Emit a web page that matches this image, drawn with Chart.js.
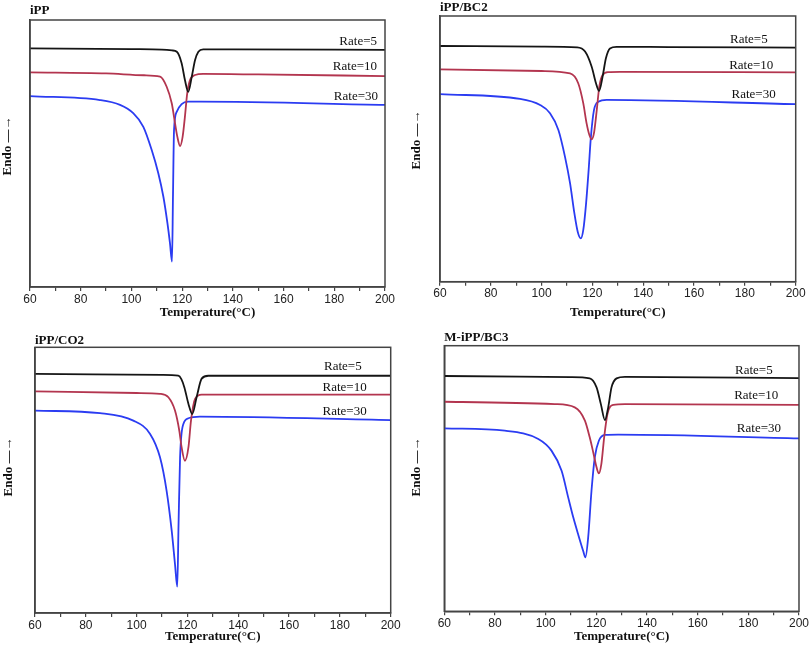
<!DOCTYPE html>
<html>
<head>
<meta charset="utf-8">
<script src="https://cdn.jsdelivr.net/npm/chart.js@4.4.1/dist/chart.umd.min.js"></script>
<style>
  html, body { margin: 0; padding: 0; background: #fff; }
  .panel { position: absolute; width: 405px; height: 324px; }
</style>
</head>
<body>
<div class="panel" style="left:0;top:0"><canvas id="c1"></canvas></div>
<div class="panel" style="left:405px;top:0"><canvas id="c2"></canvas></div>
<div class="panel" style="left:0;top:324px"><canvas id="c3"></canvas></div>
<div class="panel" style="left:405px;top:324px"><canvas id="c4"></canvas></div>
<script>
// Temperature axis
const tempMin = 60, tempMax = 200, tempStep = 10, tempLabelEvery = 20;
const rateLabels = ['Rate=5', 'Rate=10', 'Rate=30'];
const panelTitles = ['iPP', 'iPP/BC2', 'iPP/CO2', 'M-iPP/BC3'];

// [temperature °C, heat flow (a.u., 0-100 of plot height)]
const ippRate5 = [[60,89.4],[100,89.1],[112,88.9],[116,88.6],[117.9,88.1],[119.8,83.8],[121.1,77.5],[122.4,73.1],[123.8,78.8],[125.1,85.0],[126.4,88.1],[128.3,89.0],[140,89.0],[200,88.8]];
const ippRate10 = [[60,80.4],[90,80.0],[105,79.3],[111.3,78.8],[113.9,75.0],[115.9,68.8],[117.2,61.3],[118.1,56.3],[119.2,52.8],[120.2,56.3],[121.1,63.8],[122.0,72.5],[123.1,77.5],[125.1,79.4],[128.3,79.8],[150,79.6],[200,79.0]];
const ippRate30 = [[60,71.5],[87.6,70.0],[95.5,68.2],[100.7,65.1],[104.7,60.0],[108.0,51.3],[110.6,42.6],[112.6,33.8],[114.2,23.9],[115.2,16.4],[116.0,9.5],[116.4,35.0],[116.8,58.8],[117.9,65.7],[119.8,68.5],[122.4,69.4],[127,69.4],[200,68.2]];

const bc2Rate5 = [[60,88.7],[100,88.5],[114,88.2],[117.1,86.6],[119.7,80.9],[121.4,74.7],[122.6,71.8],[124.0,77.2],[125.3,84.1],[126.9,87.8],[129.5,88.4],[150,88.3],[200,88.1]];
const bc2Rate10 = [[60,79.9],[100,79.3],[111.2,78.4],[114.4,74.7],[116.4,67.1],[117.7,59.6],[118.8,55.2],[119.7,53.6],[120.6,55.9],[121.7,64.6],[122.7,73.4],[124.0,77.8],[126.2,78.9],[130.8,79.0],[200,78.8]];
const bc2Rate30 = [[60,70.6],[91.5,68.8],[99.4,66.5],[103.3,63.4],[106.6,57.1],[109.2,47.0],[111.2,37.0],[112.9,25.7],[114.2,18.8],[115.4,16.3],[116.4,19.5],[117.5,29.5],[118.5,42.0],[119.4,54.6],[120.6,64.6],[122.3,67.7],[125.6,68.4],[200,66.8]];

const co2Rate5 = [[60,90.0],[110,89.6],[116.4,89.3],[117.6,88.0],[118.8,84.9],[120.4,78.7],[121.9,74.9],[123.6,81.2],[125.6,88.2],[128.2,89.3],[200,89.3]];
const co2Rate10 = [[60,83.4],[100,82.8],[109.2,82.5],[112.5,81.2],[115.1,76.2],[116.8,68.6],[117.7,62.4],[119.0,57.3],[120.4,62.4],[121.4,72.4],[123.0,80.6],[125.6,82.2],[200,82.2]];
const co2Rate30 = [[60,76.2],[85.6,75.2],[98.7,72.4],[105.3,67.4],[109.2,58.6],[111.8,46.0],[113.8,31.0],[115.1,18.4],[116.0,9.9],[116.5,33.5],[117.1,58.6],[118.4,71.1],[120.4,73.3],[124.9,73.9],[200,72.6]];

const mbc3Rate5 = [[60,88.6],[110,88.2],[117.4,87.7],[120.1,84.3],[121.8,78.0],[123.4,72.0],[124.7,76.8],[126.0,84.3],[128.0,87.7],[131.3,88.3],[200,87.8]];
const mbc3Rate10 = [[60,78.9],[103.6,78.0],[111.5,76.8],[115.5,71.8],[117.4,65.5],[118.8,59.8],[120.1,54.2],[121.0,51.9],[122.0,55.5],[123.1,65.5],[124.4,74.3],[126.7,77.7],[131.3,78.0],[200,77.7]];
const mbc3Rate30 = [[60,68.9],[83.9,68.0],[97.1,64.9],[102.3,60.5],[106.3,52.9],[108.9,42.9],[110.9,35.4],[112.8,29.1],[114.8,22.8],[115.7,20.3],[116.8,27.9],[118.1,45.4],[119.4,58.0],[121.0,64.2],[123.4,66.4],[128.6,66.5],[200,65.1]];

const lineColors = ['#151515', '#b3354f', '#2b3cf2'];

// per-panel layout (canvas pixels)
const panels = [
    { id: 'c1', series: [ippRate5, ippRate10, ippRate30], yw: 30, padR: 20, padT: 20, xh: 37,
      titleX: 30, titleY: 11, labelX: [377, 377, 378], labelY: [41.7, 66.7, 96.7], endoX: 8, endoY: 146 },
    { id: 'c2', series: [bc2Rate5, bc2Rate10, bc2Rate30], yw: 35, padR: 14.3, padT: 16, xh: 42.3,
      titleX: 35, titleY: 7.5, labelX: [362.7, 368.3, 370.7], labelY: [40, 66, 94.3], endoX: 11.7, endoY: 140 },
    { id: 'c3', series: [co2Rate5, co2Rate10, co2Rate30], yw: 35, padR: 14.3, padT: 23.3, xh: 35,
      titleX: 35, titleY: 16.7, labelX: [361.7, 366.7, 366.7], labelY: [42.7, 63.3, 87.3], endoX: 8.3, endoY: 143 },
    { id: 'c4', series: [mbc3Rate5, mbc3Rate10, mbc3Rate30], yw: 39.3, padR: 10.7, padT: 21.7, xh: 36.7,
      titleX: 39.3, titleY: 13.3, labelX: [367.7, 373.3, 376], labelY: [46.7, 71.7, 104.3], endoX: 11.7, endoY: 143 }
];

// frame, panel title, rate labels and the Endo arrow
const decorPlugin = {
    id: 'decor',
    afterDraw(chart, args, opts) {
        const { ctx, chartArea: a } = chart;
        ctx.save();
        ctx.strokeStyle = '#444';
        ctx.lineWidth = 1.5;
        ctx.strokeRect(a.left, a.top, a.right - a.left, a.bottom - a.top);

        ctx.fillStyle = '#111';
        ctx.textBaseline = 'middle';
        ctx.textAlign = 'left';
        ctx.font = 'bold 13px "Liberation Serif"';
        ctx.fillText(opts.title, opts.titleX, opts.titleY);

        ctx.font = '13px "Liberation Serif"';
        ctx.textAlign = 'right';
        rateLabels.forEach((t, i) => ctx.fillText(t, opts.labelX[i], opts.labelY[i]));

        ctx.translate(opts.endoX, opts.endoY);
        ctx.rotate(-Math.PI / 2);
        ctx.textAlign = 'center';
        ctx.font = 'bold 13px "Liberation Serif"';
        ctx.fillText('Endo —→', 0, 0);
        ctx.restore();
    }
};

panels.forEach((p, idx) => {
    new Chart(document.getElementById(p.id), {
        type: 'line',
        data: {
            datasets: p.series.map((s, i) => ({
                label: rateLabels[i],
                data: s.map(pt => ({ x: pt[0], y: pt[1] })),
                borderColor: lineColors[i],
                borderWidth: 1.8,
                pointRadius: 0,
                cubicInterpolationMode: 'monotone',
                fill: false
            }))
        },
        options: {
            responsive: true,
            maintainAspectRatio: false,
            animation: false,
            layout: { padding: { top: p.padT, right: p.padR, left: 0, bottom: 0 } },
            plugins: {
                legend: { display: false },
                tooltip: { enabled: false },
                decor: {
                    title: panelTitles[idx], titleX: p.titleX, titleY: p.titleY,
                    labelX: p.labelX, labelY: p.labelY, endoX: p.endoX, endoY: p.endoY
                }
            },
            scales: {
                x: {
                    type: 'linear',
                    min: tempMin,
                    max: tempMax,
                    afterFit: (scale) => { scale.height = p.xh; },
                    ticks: {
                        stepSize: tempStep,
                        autoSkip: false,
                        maxRotation: 0,
                        padding: 1,
                        color: '#222',
                        font: { family: 'Liberation Sans', size: 12 },
                        callback: (v) => (v % tempLabelEvery === 0 ? v : '')
                    },
                    grid: { drawOnChartArea: false, drawTicks: true, tickLength: 4, color: '#444', lineWidth: 1.2 },
                    border: { display: true, color: '#444', width: 1.5 },
                    title: {
                        display: true,
                        text: 'Temperature(°C)',
                        color: '#111',
                        font: { family: 'Liberation Serif', size: 13, weight: 'bold' },
                        padding: { top: 0, bottom: 4 }
                    }
                },
                y: {
                    min: 0,
                    max: 100,
                    afterFit: (scale) => { scale.width = p.yw; },
                    ticks: { display: false },
                    grid: { display: false },
                    border: { display: true, color: '#444', width: 1.5 }
                }
            }
        },
        plugins: [decorPlugin]
    });
});
</script>
</body>
</html>
